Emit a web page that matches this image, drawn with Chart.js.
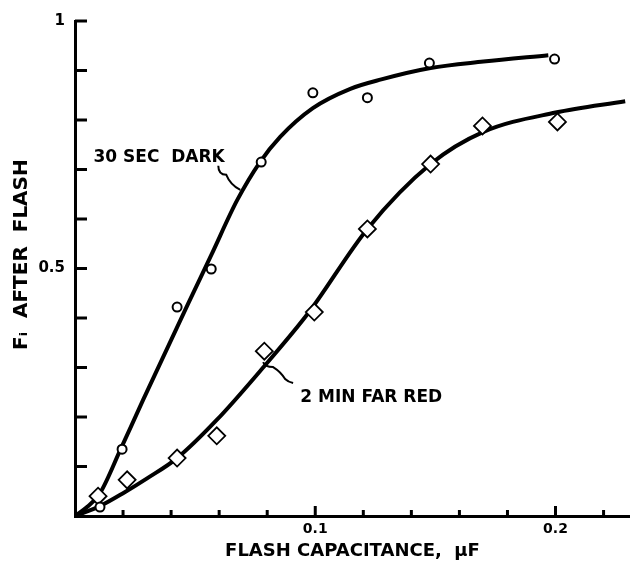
<!DOCTYPE html>
<html><head><meta charset="utf-8">
<script src="https://cdn.jsdelivr.net/npm/chart.js@4/dist/chart.umd.min.js"></script>
<style>html,body{margin:0;padding:0;background:#fff;}canvas{display:block;}</style>
</head><body>
<canvas id="c" width="630" height="562"></canvas>
<script>
// measured points: 30 sec dark (circles)
const darkX = [0.0104, 0.0196, 0.0425, 0.0567, 0.0775, 0.099, 0.1217, 0.1475, 0.1996];
const darkY = [0.018, 0.135, 0.422, 0.499, 0.715, 0.855, 0.845, 0.915, 0.923];
// measured points: 2 min far red (diamonds)
const farRedX = [0.0096, 0.0217, 0.0425, 0.059, 0.0788, 0.0996, 0.1217, 0.148, 0.1696, 0.2008];
const farRedY = [0.04, 0.073, 0.117, 0.162, 0.333, 0.412, 0.58, 0.711, 0.788, 0.796];
// fitted curves
const darkCurveX = [0, 0.005, 0.0104, 0.019, 0.0283, 0.047, 0.0567, 0.0675, 0.077, 0.0854, 0.099, 0.1146, 0.1275, 0.148, 0.17, 0.197];
const darkCurveY = [0, 0.018, 0.046, 0.135, 0.234, 0.428, 0.527, 0.638, 0.715, 0.766, 0.824, 0.863, 0.882, 0.905, 0.918, 0.931];
const farRedCurveX = [0, 0.0104, 0.02, 0.03, 0.0425, 0.059, 0.0783, 0.0971, 0.1217, 0.148, 0.17, 0.2, 0.229];
const farRedCurveY = [0, 0.02, 0.046, 0.076, 0.117, 0.194, 0.30, 0.41, 0.58, 0.711, 0.776, 0.815, 0.838];
// axis ticks
const xTickValues = [0.02, 0.04, 0.06, 0.08, 0.1, 0.12, 0.14, 0.16, 0.18, 0.2, 0.22];
const xMajorValues = [0.1, 0.2];
const xTickLabels = ['0.1', '0.2'];
const yTickValues = [0.1, 0.2, 0.3, 0.4, 0.5, 0.6, 0.7, 0.8, 0.9, 1];
const yLabelValues = [0.5, 1];
const yTickLabels = ['0.5', '1'];
// curve labels
const curveLabels = ['30 SEC  DARK', '2 MIN FAR RED'];
const curveLabelX = [0.035, 0.1233];
const curveLabelY = [0.725, 0.240];
const curveLabelAnchorX = [0.0688, 0.0783];
const curveLabelAnchorY = [0.659, 0.311];
const yTitle = 'Fᵢ  AFTER  FLASH';

const zip = (xs, ys) => xs.map((x, i) => ({x, y: ys[i]}));
const FONT = '"DejaVu Sans", sans-serif';

const customPlugin = {
  id: 'custom',
  afterDatasetsDraw(chart) {
    const ctx = chart.ctx, xs = chart.scales.x, ys = chart.scales.y;
    const ca = chart.chartArea;
    ctx.save();
    ctx.strokeStyle = '#000';
    ctx.lineWidth = 3;
    ctx.lineCap = 'butt';
    yTickValues.forEach(v => {
      const py = ys.getPixelForValue(v);
      ctx.beginPath(); ctx.moveTo(ca.left, py); ctx.lineTo(ca.left + 12, py); ctx.stroke();
    });
    xTickValues.forEach(v => {
      const px = xs.getPixelForValue(v);
      const major = xMajorValues.some(m => Math.abs(m - v) < 1e-9);
      ctx.beginPath(); ctx.moveTo(px, ca.bottom); ctx.lineTo(px, ca.bottom - (major ? 10 : 6)); ctx.stroke();
    });
    ctx.fillStyle = '#000';
    ctx.font = 'bold 17px ' + FONT;
    ctx.textBaseline = 'middle';
    ctx.textAlign = 'center';
    curveLabels.forEach((t, i) => {
      ctx.fillText(t, xs.getPixelForValue(curveLabelX[i]), ys.getPixelForValue(curveLabelY[i]));
    });
    ctx.lineWidth = 2;
    let ax = xs.getPixelForValue(curveLabelAnchorX[0]), ay = ys.getPixelForValue(curveLabelAnchorY[0]);
    ctx.beginPath();
    ctx.moveTo(ax - 22, ay - 24);
    ctx.quadraticCurveTo(ax - 22, ay - 15, ax - 14, ay - 15);
    ctx.quadraticCurveTo(ax - 10, ay - 5, ax, ay);
    ctx.stroke();
    ax = xs.getPixelForValue(curveLabelAnchorX[1]); ay = ys.getPixelForValue(curveLabelAnchorY[1]);
    ctx.beginPath();
    ctx.moveTo(ax, ay);
    ctx.quadraticCurveTo(ax + 2, ay + 5, ax + 10, ay + 5);
    ctx.quadraticCurveTo(ax + 18, ay + 10, ax + 22, ay + 17);
    ctx.quadraticCurveTo(ax + 25, ay + 20, ax + 30, ay + 21);
    ctx.stroke();
    ctx.font = 'bold 20px ' + FONT;
    ctx.translate(22, ca.top + (ca.bottom - ca.top) * 0.472);
    ctx.rotate(-Math.PI / 2);
    ctx.fillText(yTitle, 0, 0);
    ctx.restore();
  }
};

new Chart(document.getElementById('c'), {
  type: 'scatter',
  data: {
    datasets: [
      { label: '30 SEC DARK', data: zip(darkX, darkY), pointStyle: 'circle', pointRadius: 4.5,
        pointBorderWidth: 2, pointBorderColor: '#000', pointBackgroundColor: '#fff', showLine: false, order: 0 },
      { label: '2 MIN FAR RED', data: zip(farRedX, farRedY), pointStyle: 'rectRot', pointRadius: 8.5,
        pointBorderWidth: 1.8, pointBorderColor: '#000', pointBackgroundColor: '#fff', showLine: false, order: 0 },
      { label: 'dark fit', data: zip(darkCurveX, darkCurveY), showLine: true, pointRadius: 0,
        borderColor: '#000', borderWidth: 4, cubicInterpolationMode: 'monotone', fill: false, order: 1 },
      { label: 'far red fit', data: zip(farRedCurveX, farRedCurveY), showLine: true, pointRadius: 0,
        borderColor: '#000', borderWidth: 4, cubicInterpolationMode: 'monotone', fill: false, order: 1 }
    ]
  },
  options: {
    responsive: false,
    animation: false,
    devicePixelRatio: 1,
    layout: { autoPadding: false, padding: { top: 21, right: 0, left: 0, bottom: 0 } },
    plugins: { legend: { display: false }, tooltip: { enabled: false } },
    scales: {
      x: {
        type: 'linear', min: 0, max: 0.231,
        afterFit: s => { s.height = 46; s.paddingLeft = 0; s.paddingRight = 0; },
        afterBuildTicks: s => { s.ticks = xMajorValues.map(v => ({value: v})); },
        grid: { display: false, drawTicks: false },
        border: { display: true, color: '#000', width: 3 },
        ticks: { color: '#000', font: { family: FONT, weight: 'bold', size: 14 }, padding: 5,
                 maxRotation: 0, callback: (v, i) => xTickLabels[i] },
        title: { display: true, text: 'FLASH CAPACITANCE,  μF', color: '#000',
                 font: { family: FONT, weight: 'bold', size: 18 }, padding: { top: 0, bottom: 0 } }
      },
      y: {
        type: 'linear', min: 0, max: 1,
        afterFit: s => { s.width = 75; s.paddingTop = 0; s.paddingBottom = 0; },
        afterBuildTicks: s => { s.ticks = yLabelValues.map(v => ({value: v})); },
        grid: { display: false, drawTicks: false },
        border: { display: true, color: '#000', width: 3 },
        ticks: { color: '#000', font: { family: FONT, weight: 'bold', size: 15 }, padding: 10,
                 callback: (v, i) => yTickLabels[i] },
        title: { display: false }
      }
    }
  },
  plugins: [customPlugin]
});
</script>
</body></html>
